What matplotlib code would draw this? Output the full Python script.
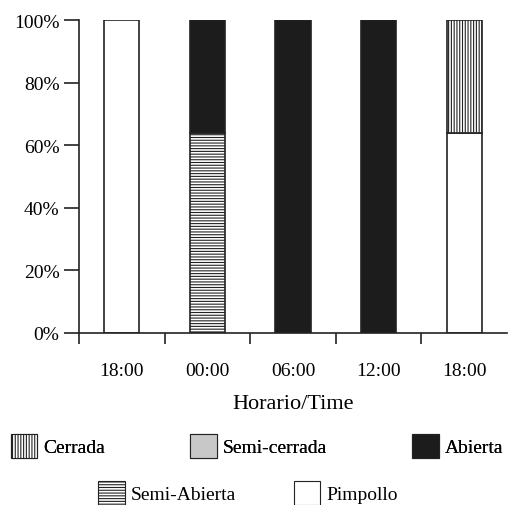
import numpy as np
import matplotlib
matplotlib.use('Agg')
import matplotlib.pyplot as plt
from matplotlib.patches import Patch

plt.rcParams['font.family'] = ['Liberation Serif', 'DejaVu Serif']
plt.rcParams['hatch.linewidth'] = 0.8

# Data (percent of flowers per stage)
horas = ['18:00', '00:00', '06:00', '12:00', '18:00']
pimpollo = [100, 0, 0, 0, 64]
semi_abierta = [0, 64, 0, 0, 0]
semi_cerrada = [0, 0, 0, 0, 0]
abierta = [0, 36, 100, 100, 0]
cerrada = [0, 0, 0, 0, 36]

series = [
    ('Pimpollo', pimpollo, 'white', None),
    ('Semi-Abierta', semi_abierta, 'white', '------'),
    ('Semi-cerrada', semi_cerrada, '#c8c8c8', None),
    ('Abierta', abierta, '#1c1c1c', None),
    ('Cerrada', cerrada, 'white', '||||||'),
]

fig = plt.figure(figsize=(5.11, 5.06), dpi=100)
W, H = 511, 506
ax = fig.add_axes([79 / W, 1 - 334 / H, (507 - 79) / W, (334 - 21) / H])

x = np.arange(len(horas))
bottom = np.zeros(len(horas))
handles = {}
for name, vals, col, hatch in series:
    vals = np.array(vals, dtype=float)
    mask = vals > 0
    ax.bar(x[mask], vals[mask], width=0.41, bottom=bottom[mask], color=col,
           edgecolor='#222222', linewidth=1.2, hatch=hatch)
    bottom += vals
    handles[name] = Patch(facecolor=col, edgecolor='#222222', linewidth=0.8, hatch=hatch)

ax.set_xlim(-0.5, 4.5)
ax.set_ylim(0, 100)
ax.set_yticks([0, 20, 40, 60, 80, 100])
ax.set_yticklabels(['%d%%' % v for v in [0, 20, 40, 60, 80, 100]])
ax.set_xticks(x)
ax.set_xticklabels(horas)
ax.set_xticks([-0.5, 0.5, 1.5, 2.5, 3.5], minor=True)
ax.tick_params(axis='x', which='major', length=0, pad=21, labelsize=14)
ax.tick_params(axis='x', which='minor', length=8, width=1.2, direction='out', color='#222222')
ax.tick_params(axis='y', length=11, width=1.2, direction='out', labelsize=14, pad=3, color='#222222')
for s in ['top', 'right']:
    ax.spines[s].set_visible(False)
for s in ['left', 'bottom']:
    ax.spines[s].set_linewidth(1.2)
    ax.spines[s].set_color('#222222')
ax.set_xlabel('Horario/Time', fontsize=16, labelpad=11)

row1 = ['Cerrada', 'Semi-cerrada', 'Abierta']
row2 = ['Semi-Abierta', 'Pimpollo']
leg1 = fig.legend([handles[n] for n in row1], row1, loc='center', ncol=3,
                  bbox_to_anchor=(257 / W, 1 - 447 / H), frameon=False, fontsize=14,
                  handlelength=1.35, handleheight=1.5, handletextpad=0.3,
                  columnspacing=4.4, borderpad=0)
fig.add_artist(leg1)
fig.legend([handles[n] for n in row2], row2, loc='center', ncol=2,
           bbox_to_anchor=(248 / W, 1 - 494 / H), frameon=False, fontsize=14,
           handlelength=1.35, handleheight=1.5, handletextpad=0.3,
           columnspacing=3.0, borderpad=0)

fig.savefig('out.png', dpi=100)
